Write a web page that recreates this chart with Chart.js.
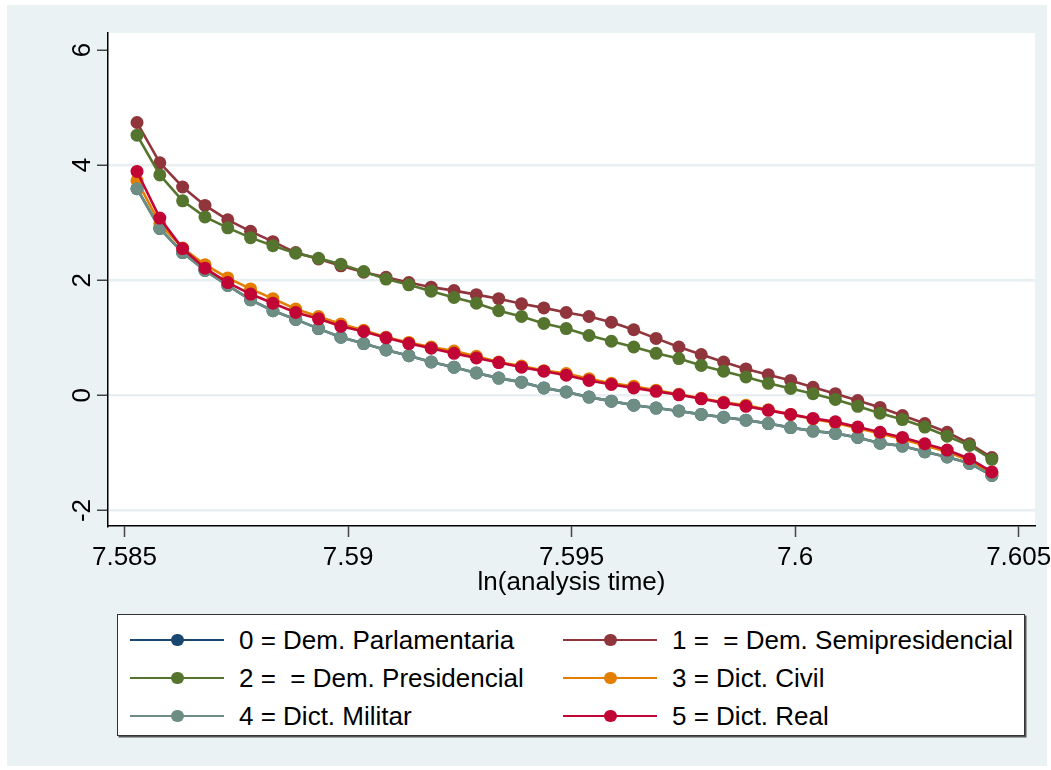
<!DOCTYPE html>
<html>
<head>
<meta charset="utf-8">
<script src="https://cdn.jsdelivr.net/npm/chart.js@4.4.1/dist/chart.umd.min.js"></script>
<style>
  html, body { margin: 0; padding: 0; background: #ffffff; }
  body { width: 1051px; height: 770px; position: relative; overflow: hidden;
         font-family: 'Liberation Sans', Arial, sans-serif; }
  #region { position: absolute; left: 7px; top: 5px; width: 1040px; height: 761px; background: #eaf2f3; }
  #plot { position: absolute; left: 0; top: 0; }
  #legend { position: absolute; left: 117px; top: 614px; width: 906px; height: 120px;
            background: #fff; border: 1.5px solid #333; box-shadow: 1.5px 1.5px 0 #555; }
  .item { position: absolute; height: 30px; display: flex; align-items: center;
          font-size: 26px; line-height: 30px; color: #000; white-space: pre; }
  .key { position: relative; width: 94px; height: 2.6px; margin-right: 15px; }
  .dot { position: absolute; left: 41px; top: -4.9px; width: 12.5px; height: 12.5px; border-radius: 50%; }
</style>
</head>
<body>
<div id="region"></div>
<canvas id="plot" width="1070" height="600"></canvas>
<div id="legend"></div>
<script>
// ln(analysis time) for each observation
const lnTime = [7.58528, 7.58579, 7.58630, 7.58680, 7.58731, 7.58782, 7.58832, 7.58883, 7.58934, 7.58984,
                7.59035, 7.59085, 7.59136, 7.59186, 7.59237, 7.59287, 7.59337, 7.59388, 7.59438, 7.59488,
                7.59539, 7.59589, 7.59639, 7.59689, 7.59740, 7.59790, 7.59840, 7.59890, 7.59940, 7.59990,
                7.60040, 7.60090, 7.60140, 7.60190, 7.60240, 7.60290, 7.60340, 7.60390, 7.60440];

const demParlamentaria = [3.59, 2.90, 2.48, 2.17, 1.91, 1.66, 1.47, 1.32, 1.16, 1.01,
                          0.90, 0.79, 0.69, 0.58, 0.49, 0.39, 0.30, 0.23, 0.13, 0.06,
                          -0.03, -0.10, -0.17, -0.22, -0.27, -0.33, -0.38, -0.43, -0.49, -0.56,
                          -0.62, -0.66, -0.73, -0.83, -0.88, -0.98, -1.07, -1.18, -1.39];
const demSemipresidencial = [4.74, 4.04, 3.62, 3.30, 3.05, 2.85, 2.67, 2.48, 2.37, 2.25,
                             2.14, 2.05, 1.96, 1.88, 1.82, 1.75, 1.68, 1.59, 1.52, 1.44,
                             1.37, 1.27, 1.14, 0.99, 0.84, 0.71, 0.58, 0.46, 0.36, 0.26,
                             0.14, 0.03, -0.09, -0.21, -0.35, -0.49, -0.64, -0.84, -1.08];
const demPresidencial = [4.52, 3.83, 3.38, 3.10, 2.91, 2.74, 2.60, 2.47, 2.38, 2.28,
                         2.15, 2.02, 1.92, 1.81, 1.70, 1.60, 1.47, 1.37, 1.25, 1.16,
                         1.04, 0.94, 0.84, 0.73, 0.64, 0.52, 0.42, 0.32, 0.21, 0.12,
                         0.03, -0.07, -0.19, -0.31, -0.42, -0.55, -0.71, -0.87, -1.11];
const dictCivil = [3.73, 2.98, 2.56, 2.27, 2.04, 1.85, 1.68, 1.50, 1.37, 1.24,
                   1.13, 1.01, 0.92, 0.84, 0.77, 0.68, 0.58, 0.51, 0.43, 0.38,
                   0.29, 0.21, 0.16, 0.09, 0.02, -0.05, -0.12, -0.17, -0.25, -0.33,
                   -0.41, -0.48, -0.57, -0.66, -0.76, -0.87, -0.98, -1.13, -1.35];
const dictMilitar = [3.59, 2.90, 2.48, 2.17, 1.91, 1.66, 1.47, 1.32, 1.16, 1.01,
                     0.90, 0.79, 0.69, 0.58, 0.49, 0.39, 0.30, 0.23, 0.13, 0.06,
                     -0.03, -0.10, -0.17, -0.22, -0.27, -0.33, -0.38, -0.43, -0.49, -0.56,
                     -0.62, -0.66, -0.73, -0.83, -0.88, -0.98, -1.07, -1.18, -1.39];
const dictReal = [3.89, 3.08, 2.55, 2.21, 1.96, 1.76, 1.60, 1.44, 1.33, 1.20,
                  1.11, 1.00, 0.90, 0.82, 0.73, 0.65, 0.57, 0.49, 0.42, 0.35,
                  0.26, 0.19, 0.13, 0.07, 0.01, -0.06, -0.13, -0.19, -0.26, -0.33,
                  -0.40, -0.46, -0.55, -0.64, -0.73, -0.84, -0.95, -1.10, -1.33];

const seriesLabels = ['0 = Dem. Parlamentaria', '1 =  = Dem. Semipresidencial', '2 =  = Dem. Presidencial',
                      '3 = Dict. Civil', '4 = Dict. Militar', '5 = Dict. Real'];
const seriesColors = ['#1a476f', '#90353b', '#55752f', '#e37e00', '#6e8e84', '#c10534'];
const seriesValues = [demParlamentaria, demSemipresidencial, demPresidencial, dictCivil, dictMilitar, dictReal];

const xTicks = [7.585, 7.59, 7.595, 7.6, 7.605];
const xTickLabels = ['7.585', '7.59', '7.595', '7.6', '7.605'];
const yTicks = [-2, 0, 2, 4, 6];

const FONT = "'Liberation Sans', Arial, sans-serif";

// white plot region on top of the light blue graph region
const plotBackground = {
    id: 'plotBackground',
    beforeDraw(chart) {
        const { ctx, chartArea: a } = chart;
        ctx.save();
        ctx.fillStyle = '#ffffff';
        ctx.fillRect(a.left, a.top, a.right - a.left, a.bottom - a.top);
        ctx.restore();
    }
};

const datasets = seriesValues.map((vals, i) => ({
    label: seriesLabels[i],
    data: vals.map((v, k) => ({ x: lnTime[k], y: v })),
    borderColor: seriesColors[i],
    backgroundColor: seriesColors[i],
    borderWidth: 2.6,
    pointRadius: 6.5,
    pointBorderWidth: 0,
    pointBackgroundColor: seriesColors[i],
    tension: 0,
    order: seriesValues.length - i   // later series drawn on top, like Stata
}));

const chart = new Chart(document.getElementById('plot'), {
    type: 'line',
    data: { datasets },
    plugins: [plotBackground],
    options: {
        responsive: false,
        animation: false,
        devicePixelRatio: 1,
        // canvas is wider than the page so the last x label does not squeeze the plot
        layout: { padding: { left: 48, right: 35, top: 33, bottom: 0 } },
        plugins: { legend: { display: false }, tooltip: { enabled: false } },
        scales: {
            x: {
                type: 'linear',
                min: 7.584631,
                max: 7.605365,
                afterBuildTicks: (s) => { s.ticks = xTicks.map(v => ({ value: v })); },
                afterFit: (s) => { s.height = 74; },
                border: { display: true, color: '#000', width: 1.5 },
                grid: { drawOnChartArea: false, drawTicks: true, tickLength: 11, tickColor: '#444', tickWidth: 1.5 },
                ticks: {
                    padding: 5,
                    color: '#000',
                    font: { family: FONT, size: 26 },
                    maxRotation: 0,
                    autoSkip: false,
                    callback: (v, i) => xTickLabels[i]
                },
                title: {
                    display: true,
                    text: 'ln(analysis time)',
                    color: '#000',
                    font: { family: FONT, size: 26 },
                    padding: { top: 0, bottom: 2 }
                }
            },
            y: {
                type: 'linear',
                min: -2.269,
                max: 6.295,
                afterBuildTicks: (s) => { s.ticks = yTicks.map(v => ({ value: v })); },
                afterFit: (s) => { s.width = 60; },
                border: { display: true, color: '#000', width: 1.5 },
                grid: {
                    color: (c) => (c.tick && c.tick.value === 6) ? 'rgba(0,0,0,0)' : '#e8eff2',
                    lineWidth: 2.5,
                    drawTicks: true,
                    tickLength: 11,
                    tickColor: '#444',
                    tickWidth: 1.5
                },
                ticks: {
                    padding: 3,
                    color: '#000',
                    font: { family: FONT, size: 26 },
                    minRotation: 90,
                    maxRotation: 90,
                    crossAlign: 'center',
                    autoSkip: false,
                    callback: (v) => String(v)
                }
            }
        }
    }
});

// legend in two columns, built from the chart's datasets
const legend = document.getElementById('legend');
const colX = [12, 445];
const rowY = [10, 48, 86];
chart.data.datasets.forEach((ds, i) => {
    const item = document.createElement('div');
    item.className = 'item';
    item.style.left = colX[i % 2] + 'px';
    item.style.top = rowY[Math.floor(i / 2)] + 'px';
    const key = document.createElement('span');
    key.className = 'key';
    key.style.background = ds.borderColor;
    const dot = document.createElement('span');
    dot.className = 'dot';
    dot.style.background = ds.borderColor;
    key.appendChild(dot);
    const txt = document.createElement('span');
    txt.textContent = ds.label;
    item.appendChild(key);
    item.appendChild(txt);
    legend.appendChild(item);
});
</script>
</body>
</html>
